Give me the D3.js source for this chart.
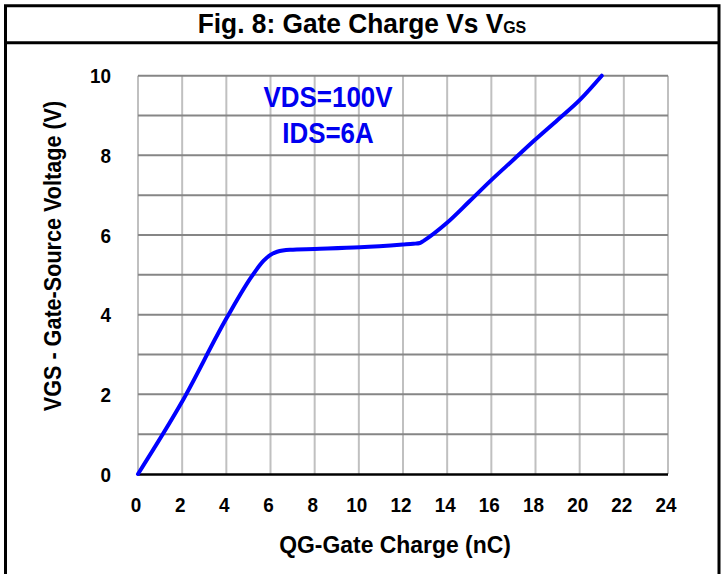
<!DOCTYPE html>
<html>
<head>
<meta charset="utf-8">
<script src="https://cdn.jsdelivr.net/npm/d3@7"></script>
<style>
  body { margin: 0; background: #fff; }
  svg text { font-family: "Liberation Sans Narrow", "Arial Narrow", "Liberation Sans", Arial, sans-serif; font-weight: bold; }
</style>
</head>
<body>
<div id="chart"></div>
<script>
// Gate charge curve
const qg = [0, 1.98, 4.02, 5.15, 5.68, 6.0, 6.3, 6.88, 8, 10.05, 12.0, 12.47, 12.77, 12.95, 13.98, 15, 16.02, 17, 17.98, 19, 20.02, 21.0];
const vgs = [0, 1.8, 3.92, 4.96, 5.35, 5.5, 5.58, 5.63, 5.65, 5.69, 5.76, 5.78, 5.8, 5.86, 6.3, 6.84, 7.39, 7.89, 8.39, 8.89, 9.4, 10.0];

const xTicks = [0, 2, 4, 6, 8, 10, 12, 14, 16, 18, 20, 22, 24];
const yTicks = [0, 2, 4, 6, 8, 10];
const yGrid = [0, 1, 2, 3, 4, 5, 6, 7, 8, 9, 10];
const notes = ["VDS=100V", "IDS=6A"];

const width = 726;
const height = 574;
const margin = { top: 75.7, right: 58, bottom: 100, left: 138 };

const svg = d3
  .select("#chart")
  .append("svg")
  .attr("width", width)
  .attr("height", height);

// Outer frame (open at the bottom) and title box
svg
  .append("path")
  .attr("d", `M5.5,${height} V5.7 H719 V${height}`)
  .style("fill", "none")
  .style("stroke", "#000")
  .style("stroke-width", 3);
svg
  .append("line")
  .attr("x1", 5.5)
  .attr("x2", 719)
  .attr("y1", 42.7)
  .attr("y2", 42.7)
  .style("stroke", "#000")
  .style("stroke-width", 3);

// Title, squeezed to look like a narrow face
const title = svg
  .append("text")
  .attr("transform", "translate(362,33) scale(0.94,1)")
  .style("text-anchor", "middle")
  .style("font-size", "28px");
title.append("tspan").text("Fig. 8: Gate Charge Vs V");
title.append("tspan").style("font-size", "17px").text("GS");

// Scales
const x = d3.scaleLinear().domain([0, 24]).range([margin.left, width - margin.right]);
const y = d3.scaleLinear().domain([0, 10]).range([height - margin.bottom, margin.top]);

// Grid
svg
  .append("g")
  .selectAll("line")
  .data(xTicks)
  .enter()
  .append("line")
  .attr("x1", (d) => x(d))
  .attr("x2", (d) => x(d))
  .attr("y1", y(10))
  .attr("y2", y(0))
  .style("stroke", "#c0c0c0")
  .style("stroke-width", 2);

svg
  .append("g")
  .selectAll("line")
  .data(yGrid.slice(1))
  .enter()
  .append("line")
  .attr("x1", x(0))
  .attr("x2", x(24))
  .attr("y1", (d) => y(d))
  .attr("y2", (d) => y(d))
  .style("stroke", "#868686")
  .style("stroke-width", 2);

// Bottom axis line
svg
  .append("line")
  .attr("x1", x(0))
  .attr("x2", x(24))
  .attr("y1", y(0) + 0.5)
  .attr("y2", y(0) + 0.5)
  .style("stroke", "#000")
  .style("stroke-width", 2.5);

// Tick labels
svg
  .append("g")
  .selectAll("text")
  .data(xTicks)
  .enter()
  .append("text")
  .attr("transform", (d) => `translate(${x(d) - 2},512) scale(0.9,1)`)
  .style("text-anchor", "middle")
  .style("font-size", "21px")
  .text((d) => d);

svg
  .append("g")
  .selectAll("text")
  .data(yTicks)
  .enter()
  .append("text")
  .attr("transform", (d) => `translate(111,${y(d) + 7.5}) scale(0.9,1)`)
  .style("text-anchor", "end")
  .style("font-size", "21px")
  .text((d) => d);

// Axis titles
svg
  .append("text")
  .attr("transform", "translate(395,553) scale(0.955,1)")
  .style("text-anchor", "middle")
  .style("font-size", "24px")
  .text("QG-Gate Charge (nC)");

svg
  .append("text")
  .attr("transform", "translate(61,256) rotate(-90) scale(0.9,1)")
  .style("text-anchor", "middle")
  .style("font-size", "24px")
  .text("VGS - Gate-Source Voltage (V)");

// Test conditions
svg
  .append("g")
  .selectAll("text")
  .data(notes)
  .enter()
  .append("text")
  .attr("transform", (d, i) => `translate(328,${107 + i * 36}) scale(0.865,1)`)
  .style("text-anchor", "middle")
  .style("font-size", "30px")
  .style("fill", "#0000f0")
  .text((d) => d);

// Curve
const line = d3
  .line()
  .x((d, i) => x(qg[i]))
  .y((d) => y(d))
  .curve(d3.curveMonotoneX);

svg
  .append("path")
  .datum(vgs)
  .attr("d", line)
  .style("fill", "none")
  .style("stroke", "#0000ff")
  .style("stroke-width", 4)
  .style("stroke-linecap", "round");
</script>
</body>
</html>
